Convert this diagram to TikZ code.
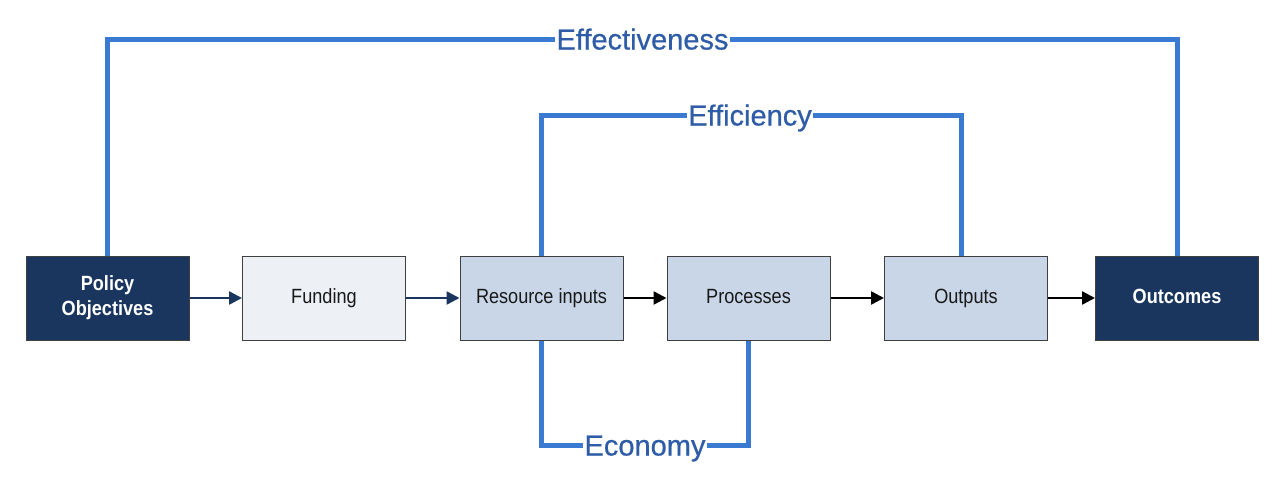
\documentclass[tikz,border=0pt]{standalone}
\usepackage{fontspec}
\setmainfont[FakeStretch=0.88]{Liberation Sans}
\newfontfamily\labfont[FakeBold=0.6]{Liberation Sans}
\usetikzlibrary{arrows.meta}
\definecolor{navy}{HTML}{1A365F}
\definecolor{lightfill}{HTML}{EDF0F5}
\definecolor{midfill}{HTML}{C8D6E7}
\definecolor{boxline}{HTML}{404040}
\definecolor{linkblue}{HTML}{3A7AD3}
\definecolor{labblue}{HTML}{2E5CA6}
\begin{document}
\begin{tikzpicture}[x=1pt,y=-1pt,
  box/.style={draw=boxline,line width=1pt,minimum width=163pt,minimum height=84pt,inner sep=0pt,
    font=\fontsize{20.6}{25}\selectfont,text=black!90,align=center},
  oneline/.style={text height=14.5pt,text depth=4.5pt},
  darkbox/.style={box,fill=navy,text=white,font=\fontsize{20.6}{25}\selectfont\bfseries},
  lightbox/.style={box,oneline,fill=lightfill},
  midbox/.style={box,oneline,fill=midfill},
  flow/.style={line width=2.5pt,-{Triangle[length=13pt,width=13pt]}},
  link/.style={draw=linkblue,line width=5pt},
  linklabel/.style={fill=white,text=labblue,inner xsep=1.5pt,inner ysep=0pt,text height=21pt,text depth=0pt,
    font=\labfont\fontsize{29}{32}\selectfont}]
\useasboundingbox (0,0) rectangle (1285,488);
\fill[white] (0,0) rectangle (1285,488);

\node[darkbox] (pol) at (107.5,298) {Policy\\Objectives};
\node[lightbox] (fun) at (324,298) {Funding};
\node[midbox] (res) at (541.5,298) {Resource inputs};
\node[midbox] (pro) at (748.5,298) {Processes};
\node[midbox] (outp) at (966,298) {Outputs};
\node[darkbox,oneline] (outc) at (1177,298) {Outcomes};

\draw[flow,draw=navy,fill=navy] (pol.east) -- (fun.west);
\draw[flow,draw=navy,fill=navy] (fun.east) -- (res.west);
\draw[flow,draw=black,fill=black] (res.east) -- (pro.west);
\draw[flow,draw=black,fill=black] (pro.east) -- (outp.west);
\draw[flow,draw=black,fill=black] (outp.east) -- (outc.west);

\node[linklabel] (effe) at (642.5,39) {Effectiveness};
\node[linklabel] (effi) at (750,115) {Efficiency};
\node[linklabel] (econ) at (645,445) {Economy};

\draw[link] (pol.north) |- (effe.west);
\draw[link] (effe.east) -| (outc.north);
\draw[link] (res.north) |- (effi.west);
\draw[link] (effi.east) -| ([xshift=-5pt]outp.north);
\draw[link] (res.south) |- (econ.west);
\draw[link] (econ.east) -| (pro.south);
\end{tikzpicture}
\end{document}
